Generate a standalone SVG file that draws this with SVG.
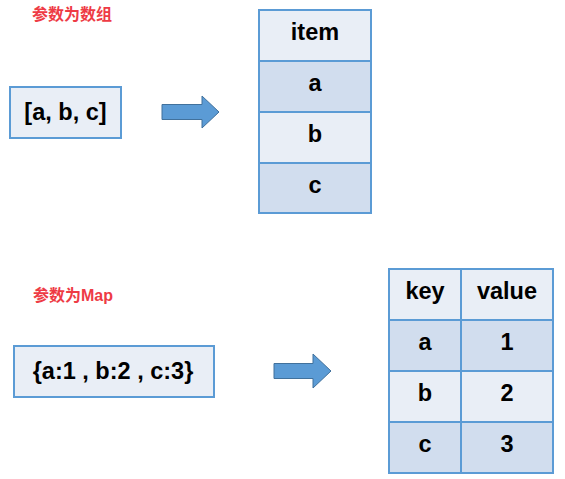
<svg xmlns="http://www.w3.org/2000/svg" width="565" height="479" viewBox="0 0 565 479">
<style>
.box{fill:#E9EEF6;stroke:#5B9BD5;stroke-width:2}
.dark{fill:#D1DDEE;stroke:#5B9BD5;stroke-width:2}
.t{font-family:"Liberation Sans",Arial,sans-serif;font-weight:bold;font-size:23.5px;fill:#000;text-anchor:middle}
.title{font-family:"Liberation Sans","Noto Sans CJK SC",sans-serif;font-weight:bold;font-size:16px;fill:#EE3B45}
.arrow{fill:#5B9BD5;stroke:#41719C;stroke-width:1}
</style>
<text class="title" x="32" y="20">参数为数组</text>
<text class="title" x="33" y="301">参数为Map</text>
<g id="array-input">
<rect class="box" x="10" y="87" width="111" height="51"/>
<text class="t" x="65.5" y="120">[a, b, c]</text>
</g>
<g id="array-table">
<rect class="box" x="259" y="10" width="112" height="51"/>
<rect class="dark" x="259" y="61" width="112" height="51"/>
<rect class="box" x="259" y="112" width="112" height="51"/>
<rect class="dark" x="259" y="163" width="112" height="50"/>
<text class="t" x="315" y="40">item</text>
<text class="t" x="315" y="91">a</text>
<text class="t" x="315" y="142">b</text>
<text class="t" x="315" y="193">c</text>
</g>
<g id="map-input">
<rect class="box" x="14" y="346" width="200" height="51"/>
<text class="t" x="113" y="379">{a:1 , b:2 , c:3}</text>
</g>
<g id="map-table">
<rect class="box" x="389" y="269" width="72" height="51"/>
<rect class="box" x="461" y="269" width="92" height="51"/>
<rect class="dark" x="389" y="320" width="72" height="51"/>
<rect class="dark" x="461" y="320" width="92" height="51"/>
<rect class="box" x="389" y="371" width="72" height="51"/>
<rect class="box" x="461" y="371" width="92" height="51"/>
<rect class="dark" x="389" y="422" width="72" height="51"/>
<rect class="dark" x="461" y="422" width="92" height="51"/>
<text class="t" x="425" y="299">key</text>
<text class="t" x="507" y="299">value</text>
<text class="t" x="425" y="350">a</text>
<text class="t" x="507" y="350">1</text>
<text class="t" x="425" y="401">b</text>
<text class="t" x="507" y="401">2</text>
<text class="t" x="425" y="452">c</text>
<text class="t" x="507" y="452">3</text>
</g>
<g id="connectors">
<path class="arrow" d="M162,104.5 H202 V96 L219,112 L202,128 V119.5 H162 Z"/>
<path class="arrow" d="M274,363.5 H313 V354 L331,371 L313,388 V378.5 H274 Z"/>
</g>
</svg>
